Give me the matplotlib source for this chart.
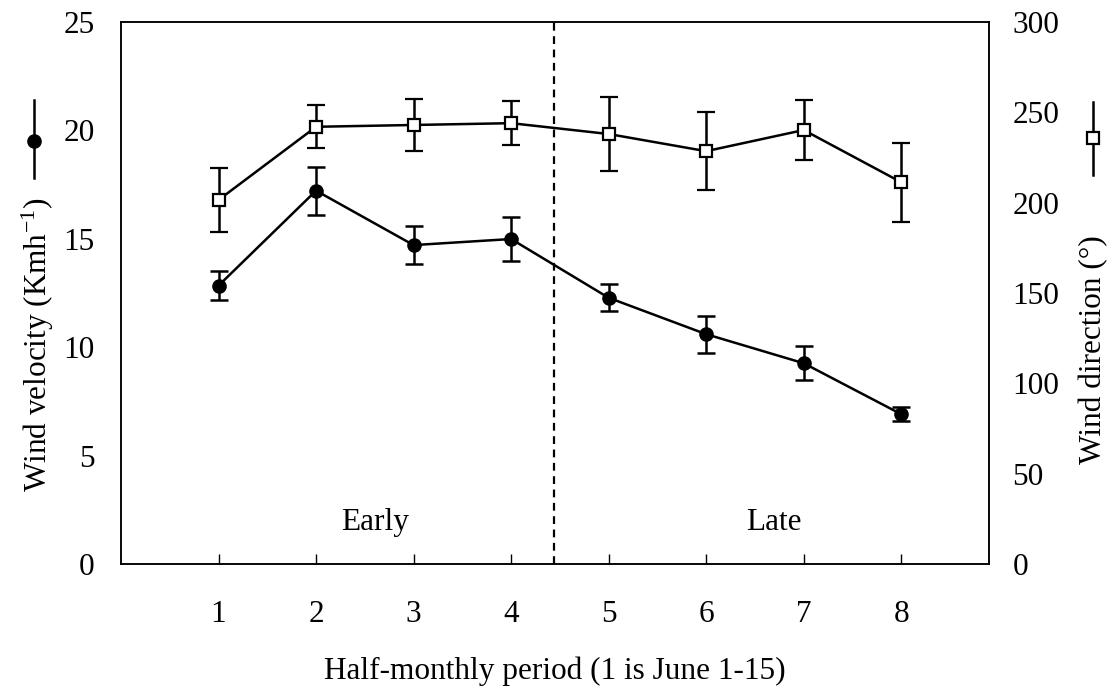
import matplotlib
matplotlib.use("Agg")
import matplotlib.pyplot as plt
from matplotlib.lines import Line2D

# half-monthly periods (1 is June 1-15)
periods = [1, 2, 3, 4, 5, 6, 7, 8]

# wind velocity (Km/h), mean and error
velocity = [12.84, 17.22, 14.71, 14.99, 12.28, 10.60, 9.26, 6.91]
velocity_err = [0.68, 1.10, 0.88, 1.02, 0.62, 0.85, 0.78, 0.32]

# wind direction (degrees), mean and error
direction = [201.5, 242.0, 243.0, 244.0, 238.0, 228.5, 240.2, 211.3]
direction_err = [17.7, 12.0, 14.5, 12.0, 20.5, 21.5, 16.5, 22.0]

split_x = 4.44  # early / late boundary

plt.rcParams['font.family'] = ['Liberation Serif', 'DejaVu Serif']
plt.rcParams['mathtext.fontset'] = 'stix'

fig = plt.figure(figsize=(11.14, 6.90), dpi=100)
ax = fig.add_axes([121 / 1114, 1 - 564 / 690, (989 - 121) / 1114, (564 - 22) / 690])
ax2 = ax.twinx()

lw = 1.8
ax.errorbar(periods, velocity, yerr=velocity_err, color='black', lw=lw,
            marker='o', markersize=9.5, mfc='black', mec='black',
            capsize=6.5, capthick=lw, elinewidth=lw, zorder=3)
ax2.errorbar(periods, direction, yerr=direction_err, color='black', lw=lw,
             marker='s', markersize=8.5, mfc='white', mec='black', mew=1.6,
             capsize=6.5, capthick=lw, elinewidth=lw, zorder=3)

ax.axvline(split_x, color='black', lw=1.6, ls=(0, (3.5, 2.5)))

ax.set_xlim(0, 8.9)
ax.set_ylim(0, 25)
ax2.set_ylim(0, 300)
ax.set_xticks(periods)
ax.set_yticks([0, 5, 10, 15, 20, 25])
ax2.set_yticks([0, 50, 100, 150, 200, 250, 300])

fs = 22.5
ax.tick_params(axis='x', direction='in', length=7, width=1, pad=26, labelsize=fs)
ax.tick_params(axis='y', length=0, pad=19, labelsize=fs)
ax2.tick_params(axis='y', length=0, pad=17, labelsize=fs)
for a in (ax, ax2):
    for s in a.spines.values():
        s.set_linewidth(1.1)

ax.text(2.6, 1.9, 'Early', ha='center', va='center', fontsize=fs)
ax.text(6.69, 1.9, 'Late', ha='center', va='center', fontsize=fs)

ax.set_xlabel('Half-monthly period (1 is June 1-15)', fontsize=fs, labelpad=20)

# y labels with their series keys
fig.text(38 / 1114, 1 - 345 / 690, r'Wind velocity (Kmh$^{\mathregular{-1}}$)',
         rotation=90, ha='center', va='center', fontsize=fs)
fig.add_artist(Line2D([34 / 1114, 34 / 1114], [1 - 100 / 690, 1 - 178 / 690],
                      transform=fig.transFigure, color='black', lw=1.8))
fig.add_artist(Line2D([34 / 1114], [1 - 141 / 690], transform=fig.transFigure,
                      marker='o', markersize=9.5, color='black'))

fig.text(1094 / 1114, 1 - 350 / 690, 'Wind direction (°)',
         rotation=90, ha='center', va='center', fontsize=fs)
fig.add_artist(Line2D([1093 / 1114, 1093 / 1114], [1 - 102 / 690, 1 - 175 / 690],
                      transform=fig.transFigure, color='black', lw=1.8))
fig.add_artist(Line2D([1093 / 1114], [1 - 138 / 690], transform=fig.transFigure,
                      marker='s', markersize=8.5, mfc='white', mec='black', mew=1.6))

fig.savefig('out.png', dpi=100)
